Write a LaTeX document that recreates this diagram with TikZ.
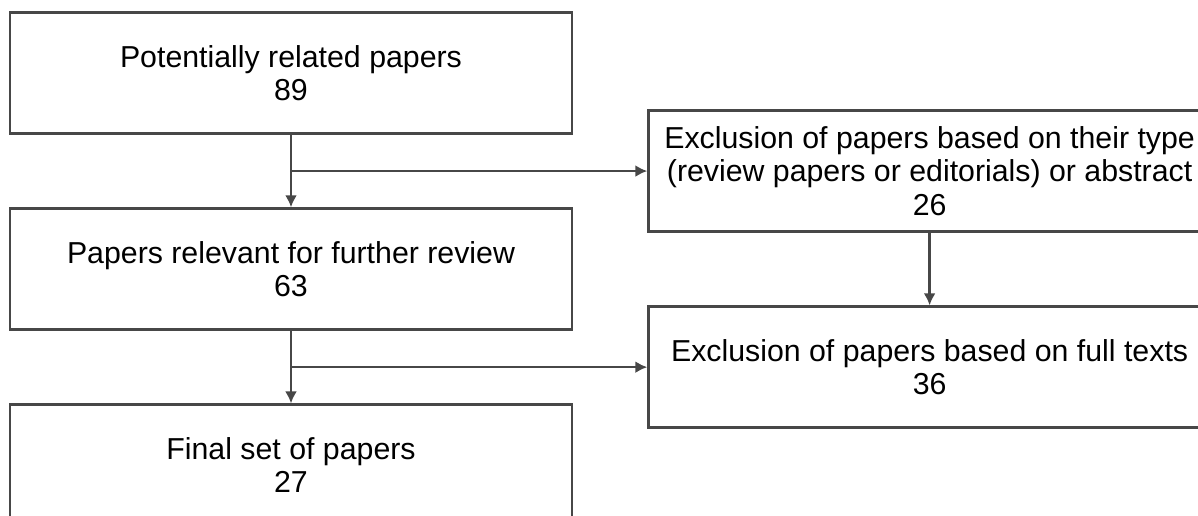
\documentclass[tikz,border=0pt]{standalone}
\usepackage{fontspec}
\setmainfont{Liberation Sans}
\usetikzlibrary{arrows.meta, positioning, calc}

\begin{document}
\begin{tikzpicture}[
        x=1pt, y=1pt,
        node distance=72.5pt and 74pt,
        box/.style={rectangle, draw=black!72, line width=2.6pt, align=center, minimum width=562pt, minimum height=121pt, font=\fontsize{30.3}{33.5}\selectfont, text=black},
        flow/.style={draw=black!72, line width=2.6pt, -{Latex[length=12pt, width=12pt]}}  % connectors with small filled heads
    ]
    \useasboundingbox (0,0) rectangle (1198,-516);
    \clip (0,0) rectangle (1198,-516);

    \node[box] (potential) at (291,-73) {Potentially related papers\\89};
    \node[box, below=of potential] (relevant) {Papers relevant for further review\\63};
    \node[box, below=of relevant] (final) {Final set of papers\\27};

    % branch points halfway between the stacked boxes
    \coordinate (branch1) at ($(potential.south)!0.5!(relevant.north)$);
    \coordinate (branch2) at ($(relevant.south)!0.5!(final.north)$);
    \coordinate (side1) at (potential.east |- branch1);

    \node[box, right=of side1] (bytype) {Exclusion of papers based on their type\\
        (review papers or editorials) or abstract\\26};
    \node[box, below=of bytype] (bytext) {Exclusion of papers based on full texts\\36};

    \draw[flow] (potential) -- (relevant);
    \draw[flow] (branch1) -- (bytype);
    \draw[flow] (bytype) -- (bytext);
    \draw[flow] (relevant) -- (final);
    \draw[flow] (branch2) -- (branch2 -| bytext.west);

\end{tikzpicture}
\end{document}
